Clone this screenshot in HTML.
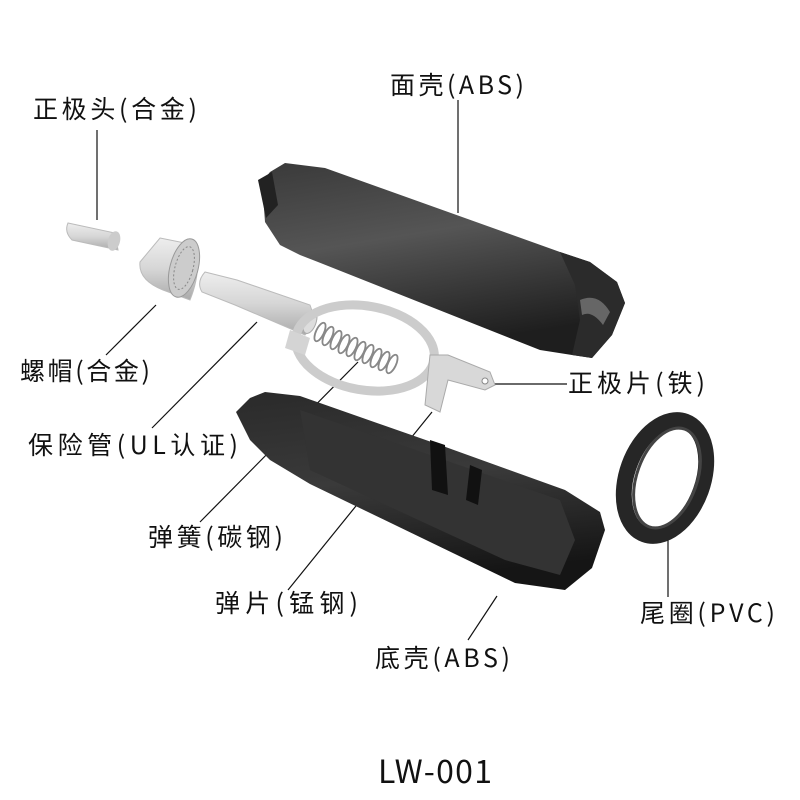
<!DOCTYPE html>
<html><head><meta charset="utf-8"><style>
html,body{margin:0;padding:0;background:#fff;width:800px;height:800px;overflow:hidden}
svg{display:block}
text{font-family:"Noto Sans CJK SC","Liberation Sans",sans-serif;fill:#111}
</style></head><body>
<svg width="800" height="800" viewBox="0 0 800 800" xmlns="http://www.w3.org/2000/svg">
<defs>
<linearGradient id="dk" x1="0" y1="0" x2="0.3" y2="1">
<stop offset="0" stop-color="#3a3a3a"/><stop offset="0.45" stop-color="#555"/><stop offset="1" stop-color="#1e1e1e"/></linearGradient>
<linearGradient id="dk2" x1="0" y1="0" x2="0.2" y2="1">
<stop offset="0" stop-color="#2a2a2a"/><stop offset="0.5" stop-color="#3a3a3a"/><stop offset="1" stop-color="#151515"/></linearGradient>
<linearGradient id="lt" x1="0" y1="0" x2="0" y2="1">
<stop offset="0" stop-color="#eee"/><stop offset="0.5" stop-color="#d6d6d6"/><stop offset="1" stop-color="#aaa"/></linearGradient>
</defs>

<g stroke="#111" stroke-width="1.2" fill="none">
<line x1="97" y1="130" x2="97" y2="220"/>
<line x1="458" y1="100" x2="458" y2="213"/>
<line x1="106" y1="355" x2="156" y2="305"/>
<line x1="152" y1="428" x2="257" y2="322"/>
<line x1="492" y1="384" x2="567" y2="384"/>
<line x1="200" y1="522" x2="358" y2="362"/>
<line x1="288" y1="590" x2="432" y2="412"/>
<line x1="468" y1="640" x2="497" y2="596"/>
<line x1="668" y1="597" x2="668" y2="530"/>
</g>

<!-- top shell -->
<path d="M262,182 L270,172 L285,163 L325,168 L560,252 L590,262 L617,282 L625,303 L612,335 L592,358 L572,355 L540,350 L318,262 L300,255 L280,245 L265,222 Z" fill="url(#dk)"/>
<path d="M258,180 L272,172 L278,205 L266,218 Z" fill="#222"/>
<path d="M560,252 L590,262 L617,282 L625,303 L612,335 L592,358 L572,355 L580,320 L575,285 Z" fill="#2b2b2b"/>
<path d="M580,300 Q598,292 610,312 L603,325 Q592,310 582,315 Z" fill="#666"/>

<!-- bottom shell -->
<path d="M236,412 L250,398 L265,392 L300,396 L440,445 L565,490 L600,512 L605,530 L592,568 L565,590 L515,583 L310,484 L270,460 L250,440 Z" fill="url(#dk2)"/>
<path d="M300,410 L430,455 L560,500 L575,540 L560,575 L505,560 L310,470 Z" fill="#333"/>
<path d="M430,440 L445,445 L448,495 L432,490 Z" fill="#111"/>
<path d="M470,465 L482,470 L478,505 L466,500 Z" fill="#111"/>

<!-- tail ring -->
<ellipse cx="665" cy="478" rx="38" ry="60" transform="rotate(20 665 478)" fill="none" stroke="#262626" stroke-width="16"/>
<ellipse cx="667" cy="478" rx="30" ry="52" transform="rotate(20 667 478)" fill="none" stroke="#444" stroke-width="3"/>

<!-- tip -->
<path d="M68,223 L115,233 L118,250 L72,240 Q64,232 68,223 Z" fill="url(#lt)" stroke="#bbb" stroke-width="1"/>
<ellipse cx="114" cy="241" rx="6" ry="10" fill="#ccc" transform="rotate(15 114 241)"/>

<!-- nut -->
<path d="M160,238 L195,245 Q202,270 190,300 L163,290 Q138,280 140,262 Z" fill="url(#lt)" stroke="#bbb"/>
<ellipse cx="184" cy="268" rx="14" ry="30" transform="rotate(15 184 268)" fill="#ccc" stroke="#999"/>
<ellipse cx="184" cy="268" rx="9" ry="22" transform="rotate(15 184 268)" fill="none" stroke="#888" stroke-dasharray="2 2"/>

<!-- fuse -->
<path d="M205,272 L237,280 L310,305 L316,322 L305,335 L235,305 L202,292 Q196,282 205,272 Z" fill="url(#lt)" stroke="#bbb"/>
<ellipse cx="310" cy="322" rx="6" ry="12" transform="rotate(20 310 322)" fill="#ddd" stroke="#aaa"/>

<!-- clip -->
<ellipse cx="365" cy="348" rx="70" ry="42" transform="rotate(10 365 348)" fill="none" stroke="#ccc" stroke-width="9"/>
<path d="M290,330 L310,338 L305,355 L285,348 Z" fill="#d4d4d4"/>
<path d="M430,355 L448,355 L490,372 L495,385 L485,390 L448,380 L440,412 L425,405 Z" fill="#d8d8d8" stroke="#aaa"/>
<circle cx="485" cy="381" r="3" fill="#fff" stroke="#888"/>

<!-- spring (coil) -->
<g fill="none" stroke="#888" stroke-width="1.8">
<ellipse cx="320" cy="332" rx="4" ry="10" transform="rotate(25 320 332)"/>
<ellipse cx="328" cy="336" rx="4" ry="10" transform="rotate(25 328 336)"/>
<ellipse cx="336" cy="340" rx="4" ry="10" transform="rotate(25 336 340)"/>
<ellipse cx="344" cy="344" rx="4" ry="10" transform="rotate(25 344 344)"/>
<ellipse cx="352" cy="347" rx="4" ry="10" transform="rotate(25 352 347)"/>
<ellipse cx="360" cy="351" rx="4" ry="10" transform="rotate(25 360 351)"/>
<ellipse cx="368" cy="354" rx="4" ry="10" transform="rotate(25 368 354)"/>
<ellipse cx="376" cy="358" rx="4" ry="10" transform="rotate(25 376 358)"/>
<ellipse cx="384" cy="361" rx="4" ry="10" transform="rotate(25 384 361)"/>
<ellipse cx="392" cy="364" rx="4" ry="10" transform="rotate(25 392 364)"/>
</g>

<g font-size="25">
<text x="33" y="118" textLength="164">正极头(合金)</text>
<text x="390" y="94" textLength="134">面壳(ABS)</text>
<text x="20" y="380" textLength="130">螺帽(合金)</text>
<text x="28" y="454" textLength="210">保险管(UL认证)</text>
<text x="568" y="392" textLength="137">正极片(铁)</text>
<text x="148" y="546" textLength="135">弹簧(碳钢)</text>
<text x="215" y="612" textLength="143">弹片(锰钢)</text>
<text x="375" y="667" textLength="135">底壳(ABS)</text>
<text x="640" y="622" textLength="135">尾圈(PVC)</text>
</g>
<text x="378" y="783" font-size="32" textLength="114">LW-001</text>
</svg>
</body></html>
